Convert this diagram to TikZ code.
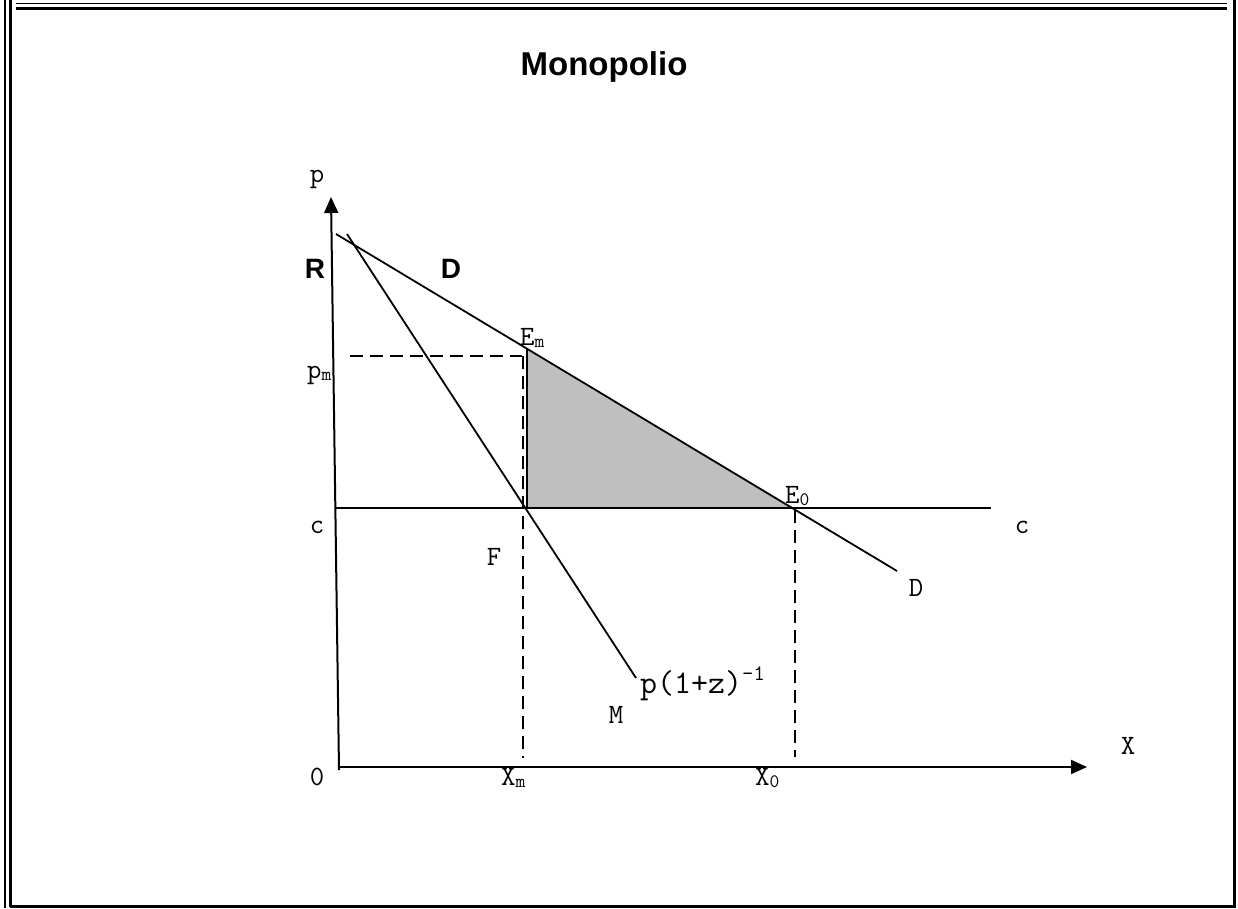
\documentclass[tikz,border=0pt]{standalone}
\usepackage{fontspec}
\newfontfamily\headfont{Liberation Sans}
\usetikzlibrary{arrows.meta}

% small lowered / raised text for indices
\newcommand{\lowidx}[1]{\raisebox{-2pt}{\fontsize{19}{19}\selectfont #1}}
\newcommand{\highidx}[1]{\raisebox{13pt}{\fontsize{22}{22}\selectfont #1}}

\begin{document}
\begin{tikzpicture}[
    x=1pt, y=-1pt,
    curve/.style={line width=1.8pt},
    axis/.style={line width=2pt,-{Triangle[length=16pt,width=14pt]}},
    guide/.style={line width=1.7pt, dash pattern=on 13pt off 7pt},
    lbl/.style={inner sep=0pt, anchor=base, font=\ttfamily\fontsize{28}{28}\selectfont},
    bigfont/.style={inner sep=0pt, anchor=base, font=\headfont\bfseries\fontsize{28}{28}\selectfont}
]
    \useasboundingbox (0,0) rectangle (1238,908);

    % frame
    \draw[line width=1.8pt] (5,0) -- (5,908);
    \draw[line width=2.6pt] (10.5,0) -- (10.5,907);
    \draw[line width=1.8pt] (16,3.5) -- (1227,3.5);
    \draw[line width=2.6pt] (16,8.5) -- (1227,8.5);
    \draw[line width=2.8pt] (1234.5,0) -- (1234.5,908);
    \draw[line width=2.6pt] (10,906.5) -- (1236,906.5);

    \node[bigfont, font=\headfont\bfseries\fontsize{33}{33}\selectfont] (title) at (604,75) {Monopolio};

    % points
    \coordinate (orig) at (339,767);
    \coordinate (ybot) at (339,770);
    \coordinate (ytop) at (331,197);
    \coordinate (xtop) at (1087,767);
    \coordinate (dstart) at (336,234);
    \coordinate (dend) at (897,571);
    \coordinate (mstart) at (347,234);
    \coordinate (mend) at (636,678);
    \coordinate (cleft) at (336,508);
    \coordinate (cright) at (991,508);
    \coordinate (em) at (527,349);
    \coordinate (f) at (527,508);
    \coordinate (e0) at (794,508);
    \coordinate (pmleft) at (350,356);
    \coordinate (pmright) at (522,356);
    \coordinate (xmtop) at (523,356);
    \coordinate (xmbot) at (523,758);
    \coordinate (x0top) at (795,510);
    \coordinate (x0bot) at (795,757);

    % surplus lost
    \fill[black!25] (em) -- (f) -- (e0) -- cycle;

    \draw[axis] (ybot) -- (ytop);
    \draw[axis] (orig) -- (xtop);
    \draw[curve] (dstart) -- (dend);
    \draw[curve] (mstart) -- (mend);
    \draw[curve] (cleft) -- (cright);
    \draw[curve] (em) -- (f);
    \draw[guide] (pmleft) -- (pmright);
    \draw[guide] (xmtop) -- (xmbot);
    \draw[guide] (x0top) -- (x0bot);

    % labels
    \node[lbl] (plab) at (317,182) {p};
    \node[bigfont] (rlab) at (315,278) {R};
    \node[bigfont] (dtop) at (451,278) {D};
    \node[lbl, anchor=base west] (emlab) at (520,345) {E\lowidx{m}};
    \node[lbl, anchor=base west] (pmlab) at (307,378) {p\lowidx{m}};
    \node[lbl] (cleftlab) at (317,533) {c};
    \node[lbl] (flab) at (494,565) {F};
    \node[lbl, anchor=base west, font=\ttfamily\fontsize{33}{33}\selectfont] (mrlab) at (640,693) {p(1+z)\highidx{-1}};
    \node[lbl] (mlab) at (616,723) {M};
    \node[lbl, anchor=base west] (e0lab) at (785,503) {E\lowidx{0}};
    \node[lbl] (crightlab) at (1022,533) {c};
    \node[lbl] (dlab) at (916,596) {D};
    \node[lbl] (xlab) at (1128,754) {X};
    \node[lbl] (olab) at (317,785) {0};
    \node[lbl, anchor=base west] (xmlab) at (501,785) {X\lowidx{m}};
    \node[lbl, anchor=base west] (x0lab) at (755,785) {X\lowidx{0}};
\end{tikzpicture}
\end{document}
